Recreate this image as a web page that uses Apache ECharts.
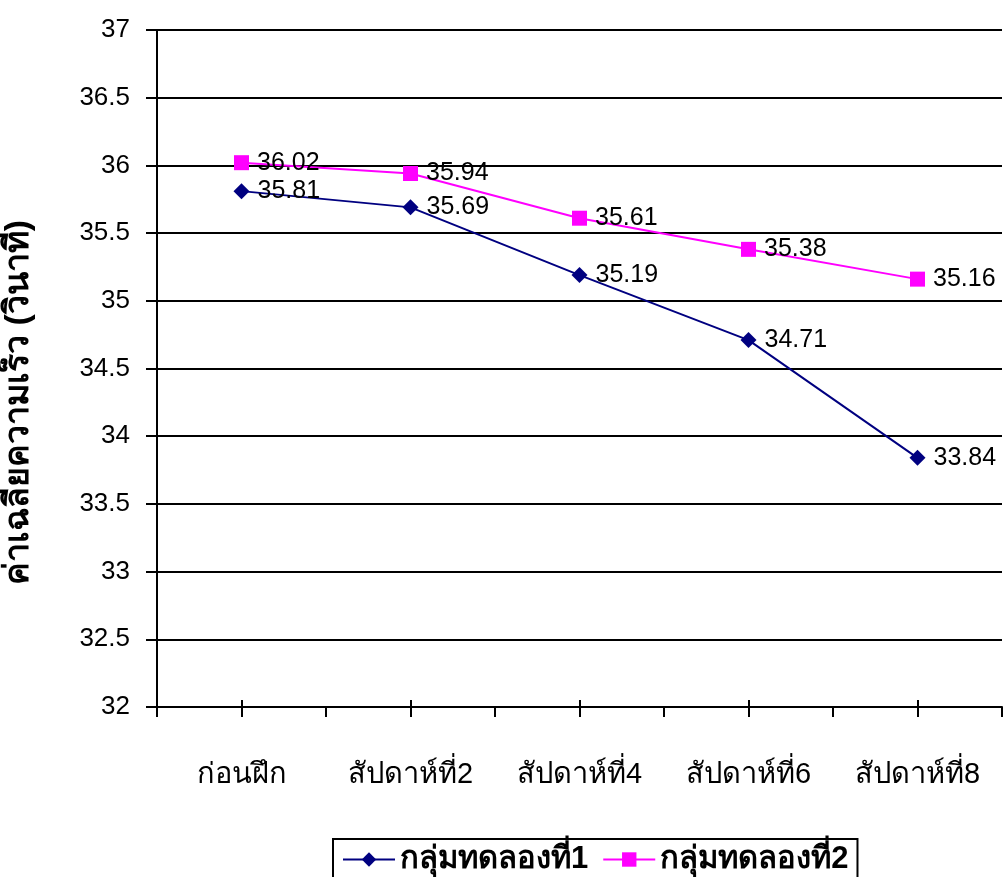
<!DOCTYPE html>
<html>
<head>
<meta charset="utf-8">
<script src="https://cdn.jsdelivr.net/npm/echarts@6/dist/echarts.min.js"></script>
<style>
html,body{margin:0;padding:0;background:#fff;}
#c{width:1003px;height:877px;}
</style>
</head>
<body>
<div id="c"></div>
<script>
var categories = ['ก่อนฝึก', 'สัปดาห์ที่2', 'สัปดาห์ที่4', 'สัปดาห์ที่6', 'สัปดาห์ที่8'];
var group1 = [35.81, 35.69, 35.19, 34.71, 33.84];
var group2 = [36.02, 35.94, 35.61, 35.38, 35.16];
var seriesNames = ['กลุ่มทดลองที่1', 'กลุ่มทดลองที่2'];
var yAxisTitle = 'ค่าเฉลี่ยความเร็ว (วินาที)';
var halfTicks = ['a','b','c','d','e','f','g','h','i','j'];

var FONT = 'Liberation Sans, Arial, "Noto Sans", sans-serif';
var chart = echarts.init(document.getElementById('c'), null, {renderer: 'canvas'});
chart.setOption({
  animation: false,
  backgroundColor: '#fff',
  textStyle: {fontFamily: FONT},
  grid: {left: 157, right: 1, top: 30, bottom: 170, containLabel: false, outerBoundsMode: 'none'},
  legend: {
    bottom: -6,
    left: 333,
    data: seriesNames,
    itemWidth: 52,
    itemHeight: 18,
    itemGap: 14,
    padding: [5, 9, 8, 9],
    borderColor: '#000',
    borderWidth: 2,
    textStyle: {fontSize: 31, fontWeight: 'bold', color: '#000', fontFamily: FONT}
  },
  xAxis: [{
    type: 'category',
    data: categories,
    boundaryGap: true,
    axisLine: {lineStyle: {color: '#000', width: 2}},
    axisTick: {show: true, alignWithLabel: true, inside: true, length: 7, lineStyle: {color: '#000', width: 2}},
    axisLabel: {fontSize: 29, color: '#000', margin: 53, fontFamily: FONT},
    splitLine: {show: false}
  }, {
    type: 'category',
    data: halfTicks,
    position: 'bottom',
    boundaryGap: true,
    axisLine: {show: false},
    axisTick: {show: true, interval: 0, length: 10, lineStyle: {color: '#000', width: 2}},
    axisLabel: {show: false},
    splitLine: {show: false}
  }],
  yAxis: {
    type: 'value',
    min: 32,
    max: 37,
    interval: 0.5,
    name: yAxisTitle,
    nameLocation: 'middle',
    nameGap: 121,
    nameRotate: 90,
    nameTextStyle: {fontSize: 34, fontWeight: 'bold', color: '#000', fontFamily: FONT, padding: [0, 68, 0, 0]},
    axisLine: {show: true, lineStyle: {color: '#000', width: 2}},
    axisTick: {show: true, length: 11, lineStyle: {color: '#000', width: 2}},
    axisLabel: {fontSize: 26, color: '#000', margin: 27, fontFamily: FONT},
    splitLine: {show: true, lineStyle: {color: '#000', width: 2}}
  },
  series: [{
    name: seriesNames[0],
    type: 'line',
    data: group1,
    color: '#000080',
    symbol: 'diamond',
    symbolSize: 16,
    lineStyle: {width: 2, color: '#000080'},
    itemStyle: {color: '#000080'},
    label: {show: true, position: 'right', distance: 8, fontSize: 25, color: '#000', fontFamily: FONT}
  }, {
    name: seriesNames[1],
    type: 'line',
    data: group2,
    color: '#FF00FF',
    symbol: 'rect',
    symbolSize: 15,
    lineStyle: {width: 2, color: '#FF00FF'},
    itemStyle: {color: '#FF00FF'},
    label: {show: true, position: 'right', distance: 8, fontSize: 25, color: '#000', fontFamily: FONT}
  }]
});
</script>
</body>
</html>
